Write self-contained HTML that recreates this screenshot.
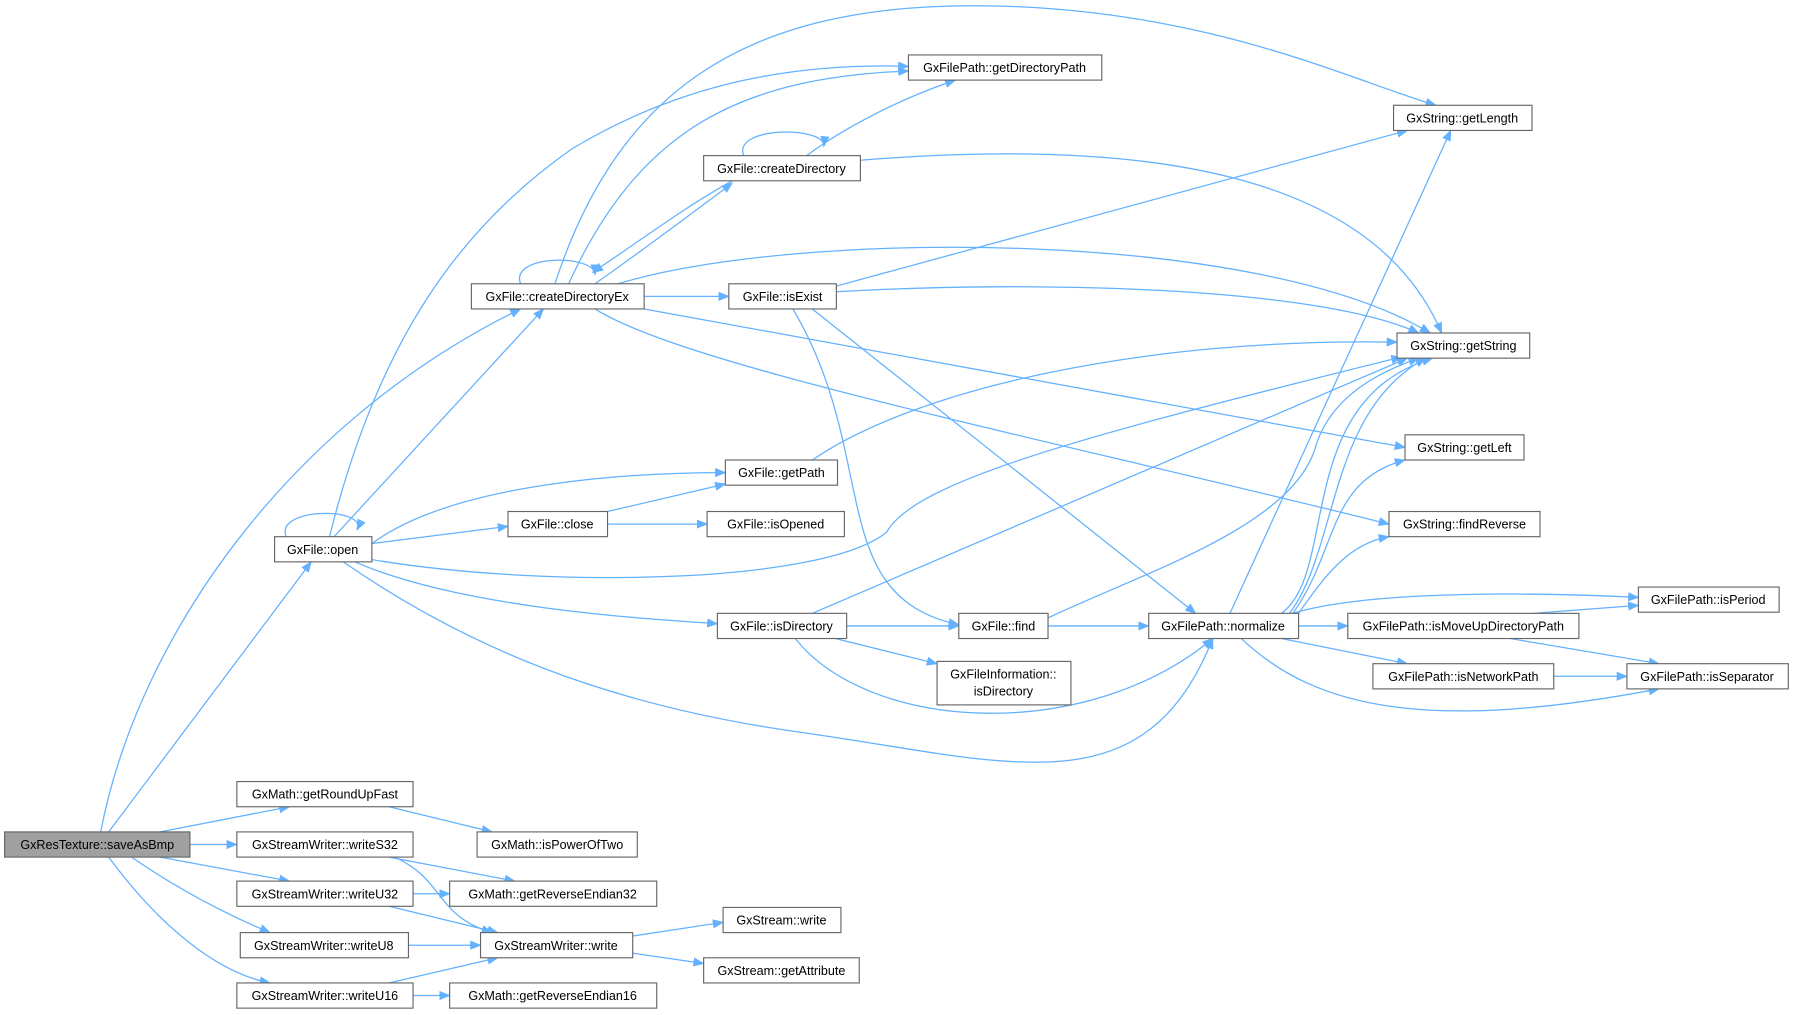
<!DOCTYPE html>
<html><head><meta charset="utf-8"><style>
html,body{margin:0;padding:0;background:#fff;}
svg{display:block;}
text{font-family:"Liberation Sans",sans-serif;font-size:11px;fill:#000;text-anchor:middle;}
.e{fill:none;stroke:#63b1ff;stroke-width:1.1;}
.n{fill:#fff;stroke:#666;stroke-width:1;}
</style></head><body>
<svg width="1794" height="1015" viewBox="0 0 1568 887" preserveAspectRatio="none" xmlns="http://www.w3.org/2000/svg">
<defs><marker id="a" markerWidth="10" markerHeight="8" refX="9" refY="4" orient="auto" markerUnits="userSpaceOnUse"><path d="M0,0 L10,4 L0,8 z" fill="#63b1ff"/></marker></defs>
<g class="e" marker-end="url(#a)">
<path d="M88,727 C120,560 250,370 455,270"/>
<path d="M95,727 L272,491"/>
<path d="M140,727 L253,705"/>
<path d="M166,738 L207,738"/>
<path d="M140,749 L253,770"/>
<path d="M115,749 C160,780 200,800 236,815"/>
<path d="M95,749 C140,810 190,850 236,859"/>
<path d="M340,705 L430,727"/>
<path d="M340,749 L450,770"/>
<path d="M345,749 C390,770 380,800 430,815"/>
<path d="M361,781 L393,781"/>
<path d="M340,792 L435,815"/>
<path d="M357,826 L420,826"/>
<path d="M340,859 L435,837"/>
<path d="M361,870 L393,870"/>
<path d="M553,818 L632,806"/>
<path d="M553,833 L615,842"/>
<path d="M250,469 C240,443 322,443 312,463"/>
<path d="M288,469 C330,300 400,200 500,130 C600,70 700,55 794,58"/>
<path d="M292,469 L475,270"/>
<path d="M325,475 C400,420 560,413 634,413"/>
<path d="M325,475 L444,460"/>
<path d="M325,489 C480,515 720,510 775,465 C800,420 950,380 1225,312"/>
<path d="M310,491 C400,530 550,540 627,545"/>
<path d="M300,491 C400,560 520,615 700,640 C880,665 1000,710 1060,558"/>
<path d="M531,447 L634,423"/>
<path d="M531,458 L618,458"/>
<path d="M455,248 C445,222 520,222 520,240"/>
<path d="M497,248 C560,110 650,68 794,62"/>
<path d="M520,248 C560,220 600,190 640,160"/>
<path d="M640,158 C600,180 560,210 518,238"/>
<path d="M563,259 L637,259"/>
<path d="M540,248 C700,200 1100,200 1250,291"/>
<path d="M563,270 L1228,391"/>
<path d="M520,270 C600,320 900,380 1214,458"/>
<path d="M650,136 C640,110 722,110 720,128"/>
<path d="M705,136 C740,110 790,85 835,70"/>
<path d="M752,140 C1000,120 1200,150 1260,291"/>
<path d="M731,250 L1230,114"/>
<path d="M731,255 C900,245 1150,250 1240,291"/>
<path d="M693,270 C770,400 720,520 838,546"/>
<path d="M710,270 L1045,536"/>
<path d="M710,402 C800,340 1000,295 1221,299"/>
<path d="M710,536 L1230,313"/>
<path d="M740,547 L838,547"/>
<path d="M730,558 L819,580"/>
<path d="M695,558 C760,640 950,650 1060,558"/>
<path d="M916,547 L1004,547"/>
<path d="M916,540 C1000,500 1130,460 1150,390 C1165,340 1220,320 1240,313"/>
<path d="M485,248 C540,80 650,5 850,5 C1050,5 1180,70 1255,92"/>
<path d="M1075,536 L1268,114"/>
<path d="M1120,536 C1170,500 1130,350 1252,313"/>
<path d="M1127,536 C1170,480 1160,360 1246,313"/>
<path d="M1130,536 C1170,480 1160,420 1228,402"/>
<path d="M1135,536 C1160,500 1180,475 1214,469"/>
<path d="M1130,536 C1200,515 1350,518 1432,522"/>
<path d="M1135,547 L1178,547"/>
<path d="M1120,558 L1230,580"/>
<path d="M1085,558 C1150,620 1250,640 1450,602"/>
<path d="M1340,536 L1432,529"/>
<path d="M1320,558 L1450,580"/>
<path d="M1358,591 L1422,591"/>
</g>
<g>
<rect x="4" y="727" width="162" height="22" fill="#a0a0a0" stroke="#666"/><text x="85" y="742">GxResTexture::saveAsBmp</text>
<rect class="n" x="207" y="683" width="154" height="22"/><text x="284" y="698">GxMath::getRoundUpFast</text>
<rect class="n" x="207" y="727" width="154" height="22"/><text x="284" y="742">GxStreamWriter::writeS32</text>
<rect class="n" x="207" y="770" width="154" height="22"/><text x="284" y="785">GxStreamWriter::writeU32</text>
<rect class="n" x="210" y="815" width="147" height="22"/><text x="283" y="830">GxStreamWriter::writeU8</text>
<rect class="n" x="207" y="859" width="154" height="22"/><text x="284" y="874">GxStreamWriter::writeU16</text>
<rect class="n" x="417" y="727" width="140" height="22"/><text x="487" y="742">GxMath::isPowerOfTwo</text>
<rect class="n" x="393" y="770" width="181" height="22"/><text x="483" y="785">GxMath::getReverseEndian32</text>
<rect class="n" x="420" y="815" width="133" height="22"/><text x="486" y="830">GxStreamWriter::write</text>
<rect class="n" x="393" y="859" width="181" height="22"/><text x="483" y="874">GxMath::getReverseEndian16</text>
<rect class="n" x="632" y="793" width="103" height="22"/><text x="683" y="808">GxStream::write</text>
<rect class="n" x="615" y="837" width="136" height="22"/><text x="683" y="852">GxStream::getAttribute</text>
<rect class="n" x="240" y="469" width="85" height="22"/><text x="282" y="484">GxFile::open</text>
<rect class="n" x="412" y="248" width="151" height="22"/><text x="487" y="263">GxFile::createDirectoryEx</text>
<rect class="n" x="794" y="48" width="169" height="22"/><text x="878" y="63">GxFilePath::getDirectoryPath</text>
<rect class="n" x="615" y="136" width="137" height="22"/><text x="683" y="151">GxFile::createDirectory</text>
<rect class="n" x="637" y="248" width="94" height="22"/><text x="684" y="263">GxFile::isExist</text>
<rect class="n" x="634" y="402" width="98" height="22"/><text x="683" y="417">GxFile::getPath</text>
<rect class="n" x="444" y="447" width="87" height="22"/><text x="487" y="462">GxFile::close</text>
<rect class="n" x="618" y="447" width="120" height="22"/><text x="678" y="462">GxFile::isOpened</text>
<rect class="n" x="627" y="536" width="113" height="22"/><text x="683" y="551">GxFile::isDirectory</text>
<rect class="n" x="838" y="536" width="78" height="22"/><text x="877" y="551">GxFile::find</text>
<rect class="n" x="819" y="578" width="117" height="38"/><text x="877" y="593">GxFileInformation::</text><text x="877" y="608">isDirectory</text>
<rect class="n" x="1004" y="536" width="131" height="22"/><text x="1069" y="551">GxFilePath::normalize</text>
<rect class="n" x="1218" y="92" width="121" height="22"/><text x="1278" y="107">GxString::getLength</text>
<rect class="n" x="1221" y="291" width="116" height="22"/><text x="1279" y="306">GxString::getString</text>
<rect class="n" x="1228" y="380" width="104" height="22"/><text x="1280" y="395">GxString::getLeft</text>
<rect class="n" x="1214" y="447" width="132" height="22"/><text x="1280" y="462">GxString::findReverse</text>
<rect class="n" x="1432" y="513" width="123" height="22"/><text x="1493" y="528">GxFilePath::isPeriod</text>
<rect class="n" x="1178" y="536" width="202" height="22"/><text x="1279" y="551">GxFilePath::isMoveUpDirectoryPath</text>
<rect class="n" x="1200" y="580" width="158" height="22"/><text x="1279" y="595">GxFilePath::isNetworkPath</text>
<rect class="n" x="1422" y="580" width="141" height="22"/><text x="1492" y="595">GxFilePath::isSeparator</text>
</g>
</svg>
</body></html>
